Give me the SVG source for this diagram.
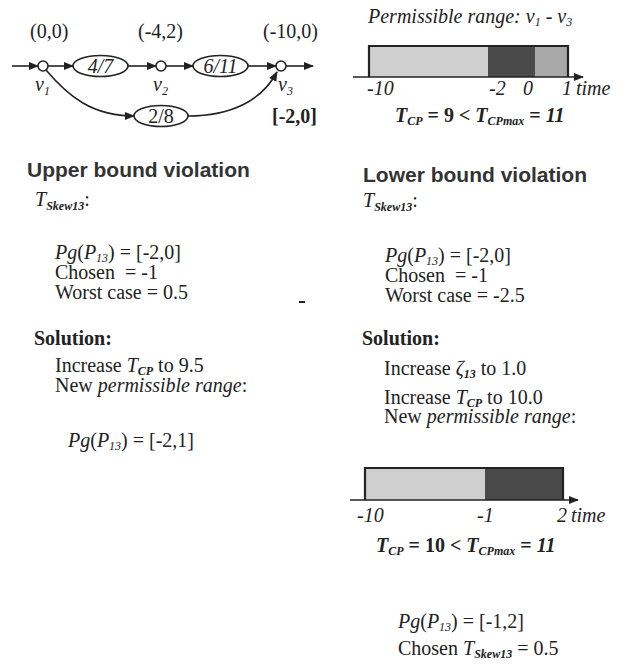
<svg xmlns="http://www.w3.org/2000/svg" width="625" height="664" viewBox="0 0 625 664">
<defs>
<marker id="ah" viewBox="0 0 10 10" refX="9" refY="5" markerWidth="10" markerHeight="10" markerUnits="userSpaceOnUse" orient="auto"><path d="M0,1 L10,5 L0,9 Z" fill="#222"/></marker>
</defs>
<style>
.s{font-family:"Liberation Serif","Times New Roman",serif;font-size:20px;fill:#222}
.i{font-style:italic}
.b{font-weight:bold}
.sub{font-size:12px;font-style:italic;font-weight:bold}
.sn{font-size:12px;font-style:italic}
.h{font-family:"Liberation Sans",Arial,sans-serif;font-size:21px;font-weight:bold;fill:#333}
.nd{fill:#fff;stroke:#222;stroke-width:1.6}
.ln{fill:none;stroke:#222;stroke-width:1.6}
.bar{stroke:#222;stroke-width:2.2}
</style>
<rect width="625" height="664" fill="#fff"/>

<g id="labels">
<text class="s" x="30" y="38">(0,0)</text>
<text class="s" x="138" y="38">(-4,2)</text>
<text class="s" x="263" y="38">(-10,0)</text>
<text class="s b" x="272" y="123">[-2,0]</text>
</g>

<g id="connectors">
<line class="ln" x1="12" y1="66" x2="38" y2="66" marker-end="url(#ah)"/>
<line class="ln" x1="48" y1="66" x2="73" y2="66" marker-end="url(#ah)"/>
<line class="ln" x1="128" y1="66" x2="156" y2="66" marker-end="url(#ah)"/>
<line class="ln" x1="166" y1="66" x2="193" y2="66" marker-end="url(#ah)"/>
<line class="ln" x1="248" y1="66" x2="276" y2="66" marker-end="url(#ah)"/>
<line class="ln" x1="286" y1="66" x2="313" y2="66" marker-end="url(#ah)"/>
<path class="ln" d="M46,70 C68,96 92,116 134,116" marker-end="url(#ah)"/>
<path class="ln" d="M188,116 C232,116 262,100 277,72" marker-end="url(#ah)"/>
</g>

<g id="v1"><circle class="nd" cx="43" cy="66" r="5"/><text class="s i" x="35" y="91">v<tspan class="sn" dy="4">1</tspan></text></g>
<g id="v2"><circle class="nd" cx="161" cy="66" r="5"/><text class="s i" x="153" y="91">v<tspan class="sn" dy="4">2</tspan></text></g>
<g id="v3"><circle class="nd" cx="281" cy="66" r="5"/><text class="s i" x="278" y="91">v<tspan class="sn" dy="4">3</tspan></text></g>
<g id="e47"><ellipse class="nd" cx="100.5" cy="66" rx="27.5" ry="10.5"/><text class="s i" x="100.5" y="73" text-anchor="middle">4/7</text></g>
<g id="e611"><ellipse class="nd" cx="220.5" cy="66" rx="27.5" ry="10.5"/><text class="s i" x="220.5" y="73" text-anchor="middle">6/11</text></g>
<g id="e28"><ellipse class="nd" cx="161" cy="116" rx="27" ry="10.5"/><text class="s" x="161" y="123" text-anchor="middle">2/8</text></g>

<g id="chart1">
<text class="s i" x="368" y="23">Permissible range: v<tspan class="sn" dy="3">1</tspan><tspan dy="-3"> - v</tspan><tspan class="sn" dy="3">3</tspan></text>
<rect x="369" y="46" width="119" height="31" fill="#cfcfcf"/>
<rect x="488" y="46" width="47" height="31" fill="#4a4a4a"/>
<rect x="535" y="46" width="33" height="31" fill="#a8a8a8"/>
<path class="bar" d="M369,77 V46 H568 V77" fill="none"/>
<line class="ln" x1="353" y1="77" x2="583" y2="77" stroke-width="2" marker-end="url(#ah)"/>
<text class="s i" x="367" y="95">-10</text>
<text class="s i" x="489" y="95">-2</text>
<text class="s i" x="523" y="95">0</text>
<text class="s i" x="562" y="95">1</text>
<text class="s i" x="576" y="95">time</text>
<text class="s b" x="395" y="122"><tspan class="i">T</tspan><tspan class="sub" dy="3">CP</tspan><tspan dy="-3"> = 9 &lt; </tspan><tspan class="i">T</tspan><tspan class="sub" dy="3">CPmax</tspan><tspan dy="-3"> = </tspan><tspan class="i">11</tspan></text>
</g>

<g id="upper">
<text class="h" x="27" y="177">Upper bound violation</text>
<text class="s" x="35" y="206"><tspan class="i">T</tspan><tspan class="sub" dy="4">Skew13</tspan><tspan dy="-4">:</tspan></text>
<text class="s" x="55" y="259"><tspan class="i">Pg</tspan>(<tspan class="i">P</tspan><tspan class="sn" dy="3">13</tspan><tspan dy="-3">) = [-2,0]</tspan></text>
<text class="s" x="55" y="279">Chosen&#160; = -1</text>
<text class="s" x="55" y="299">Worst case = 0.5</text>
<line x1="299" y1="302" x2="305" y2="302" stroke="#222" stroke-width="2"/>
<text class="s b" x="34" y="345">Solution:</text>
<text class="s" x="55" y="372">Increase <tspan class="i">T</tspan><tspan class="sub" dy="3">CP</tspan><tspan dy="-3"> to 9.5</tspan></text>
<text class="s" x="55" y="392">New <tspan class="i">permissible range</tspan>:</text>
<text class="s" x="68" y="447"><tspan class="i">Pg</tspan>(<tspan class="i">P</tspan><tspan class="sn" dy="3">13</tspan><tspan dy="-3">) = [-2,1]</tspan></text>
</g>

<g id="lower">
<text class="h" x="363" y="182">Lower bound violation</text>
<text class="s" x="363" y="207"><tspan class="i">T</tspan><tspan class="sub" dy="4">Skew13</tspan><tspan dy="-4">:</tspan></text>
<text class="s" x="385" y="262"><tspan class="i">Pg</tspan>(<tspan class="i">P</tspan><tspan class="sn" dy="3">13</tspan><tspan dy="-3">) = [-2,0]</tspan></text>
<text class="s" x="385" y="282">Chosen&#160; = -1</text>
<text class="s" x="385" y="302">Worst case = -2.5</text>
<text class="s b" x="362" y="345">Solution:</text>
<text class="s" x="384" y="375">Increase <tspan class="i">ζ</tspan><tspan class="sub" dy="3">13</tspan><tspan dy="-3"> to 1.0</tspan></text>
<text class="s" x="384" y="404">Increase <tspan class="i">T</tspan><tspan class="sub" dy="3">CP</tspan><tspan dy="-3"> to 10.0</tspan></text>
<text class="s" x="384" y="423">New <tspan class="i">permissible range</tspan>:</text>
</g>

<g id="chart2">
<rect x="365" y="468" width="120" height="32" fill="#cfcfcf"/>
<rect x="485" y="468" width="78" height="32" fill="#4a4a4a"/>
<path class="bar" d="M365,500 V468 H563 V500" fill="none"/>
<line class="ln" x1="350" y1="500" x2="578" y2="500" stroke-width="2" marker-end="url(#ah)"/>
<text class="s i" x="357" y="522">-10</text>
<text class="s i" x="477" y="522">-1</text>
<text class="s i" x="557" y="522">2</text>
<text class="s i" x="571" y="522">time</text>
<text class="s b" x="376" y="552"><tspan class="i">T</tspan><tspan class="sub" dy="3">CP</tspan><tspan dy="-3"> = 10 &lt; </tspan><tspan class="i">T</tspan><tspan class="sub" dy="3">CPmax</tspan><tspan dy="-3"> = </tspan><tspan class="i">11</tspan></text>
<text class="s" x="398" y="628"><tspan class="i">Pg</tspan>(<tspan class="i">P</tspan><tspan class="sn" dy="3">13</tspan><tspan dy="-3">) = [-1,2]</tspan></text>
<text class="s" x="398" y="655">Chosen <tspan class="i">T</tspan><tspan class="sub" dy="3">Skew13</tspan><tspan dy="-3"> = 0.5</tspan></text>
</g>
</svg>
